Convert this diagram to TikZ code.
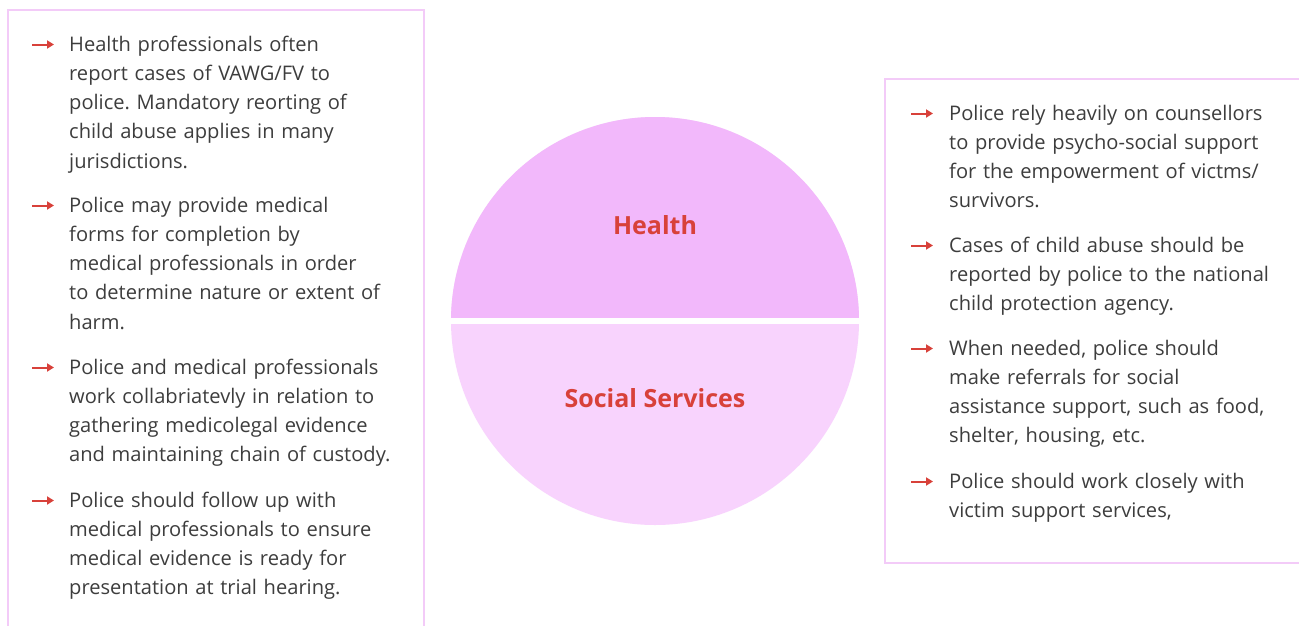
\documentclass[tikz,border=0pt]{standalone}
\usepackage{fontspec}
\setmainfont{Open Sans}
\usetikzlibrary{arrows.meta}
\definecolor{boxline}{HTML}{F3CBF8}
\definecolor{upperfill}{HTML}{F2B8FB}
\definecolor{lowerfill}{HTML}{F8D3FD}
\definecolor{accent}{HTML}{D8413A}
\definecolor{bodytext}{HTML}{3D3D3D}
\tikzset{
  panel/.style={draw=boxline, line width=1.3pt},
  itemtext/.style={anchor=base west, inner sep=0pt, text width=340pt, align=left,
    text=bodytext, font=\fontsize{20.1}{29.3}\selectfont\frenchspacing},
  bullet/.style={draw=accent, line width=2pt, -{Triangle[length=7pt,width=8pt]}},
  label/.style={text=accent, font=\fontsize{25}{30}\selectfont\bfseries, inner sep=0pt},
}
\begin{document}
\begin{tikzpicture}[x=1pt,y=-1pt]
\useasboundingbox (0,0) rectangle (1299,625);
\fill[white] (0,0) rectangle (1299,625);
% panels
\draw[panel] (8,10) rectangle (424,660);
\draw[panel] (885,79) rectangle (1320,563);
% circle
\fill[lowerfill] (655,321) circle (204);
\begin{scope}
  \clip (655,321) circle (204);
  \fill[upperfill] (440,100) rectangle (870,321);
\end{scope}
\fill[white] (440,318) rectangle (870,324);
\node[label] (health) at (655,225) {Health};
\node[label] (social) at (655,398) {Social Services};
% left items
\coordinate (la1) at (32,44.5); \coordinate (lb1) at (54,44.5);
\coordinate (la2) at (32,205.5); \coordinate (lb2) at (54,205.5);
\coordinate (la3) at (32,367.5); \coordinate (lb3) at (54,367.5);
\coordinate (la4) at (32,500.5); \coordinate (lb4) at (54,500.5);
\draw[bullet] (la1) -- (lb1);
\draw[bullet] (la2) -- (lb2);
\draw[bullet] (la3) -- (lb3);
\draw[bullet] (la4) -- (lb4);
\node[itemtext] (l1) at (69,51) {Health professionals often\\report cases of VAWG/FV to\\police. Mandatory reorting of\\child abuse applies in many\\jurisdictions.};
\node[itemtext] (l2) at (69,212) {Police may provide medical\\forms for completion by\\medical professionals in order\\to determine nature or extent of\\harm.};
\node[itemtext] (l3) at (69,374) {Police and medical professionals\\work collabriatevly in relation to\\gathering medicolegal evidence\\and maintaining chain of custody.};
\node[itemtext] (l4) at (69,507) {Police should follow up with\\medical professionals to ensure\\medical evidence is ready for\\presentation at trial hearing.};
% right items
\coordinate (ra1) at (911,113.5); \coordinate (rb1) at (933,113.5);
\coordinate (ra2) at (911,245.5); \coordinate (rb2) at (933,245.5);
\coordinate (ra3) at (911,348.5); \coordinate (rb3) at (933,348.5);
\coordinate (ra4) at (911,481.5); \coordinate (rb4) at (933,481.5);
\draw[bullet] (ra1) -- (rb1);
\draw[bullet] (ra2) -- (rb2);
\draw[bullet] (ra3) -- (rb3);
\draw[bullet] (ra4) -- (rb4);
\node[itemtext] (r1) at (949,120) {Police rely heavily on counsellors\\to provide psycho-social support\\for the empowerment of victms/\\survivors.};
\node[itemtext] (r2) at (949,252) {Cases of child abuse should be\\reported by police to the national\\child protection agency.};
\node[itemtext] (r3) at (949,355) {When needed, police should\\make referrals for social\\assistance support, such as food,\\shelter, housing, etc.};
\node[itemtext] (r4) at (949,488) {Police should work closely with\\victim support services,};
\end{tikzpicture}
\end{document}
